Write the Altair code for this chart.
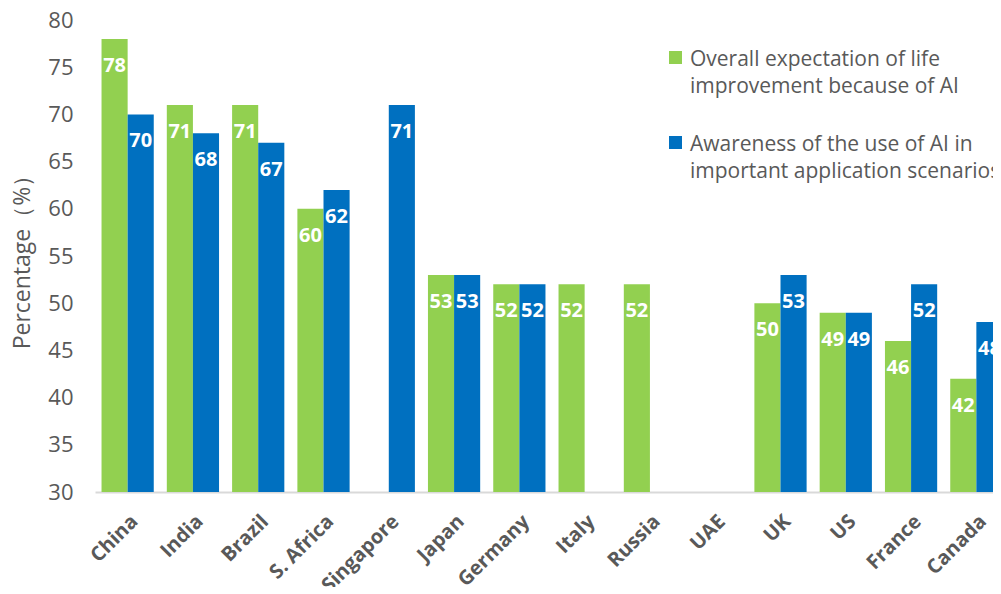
import altair as alt
import pandas as pd

countries = ["China", "India", "Brazil", "S. Africa", "Singapore", "Japan", "Germany",
             "Italy", "Russia", "UAE", "UK", "US", "France", "Canada"]
expectation = [78, 71, 71, 60, None, 53, 52, 52, 52, None, 50, 49, 46, 42]
awareness = [70, 68, 67, 62, 71, 53, 52, None, None, None, 53, 49, 52, 48]
series = ["Overall expectation of life improvement because of AI",
          "Awareness of the use of AI in important application scenarios"]
colors = ["#92D050", "#0070C0"]
y_ticks = [30, 35, 40, 45, 50, 55, 60, 65, 70, 75, 80]

rows = []
for c, e, a in zip(countries, expectation, awareness):
    rows.append({"country": c, "series": series[0], "value": e})
    rows.append({"country": c, "series": series[1], "value": a})
df = pd.DataFrame(rows)
df = df[df["value"].notna()]

FONT = "Open Sans"
GRAY = "#595959"

label_expr = ("datum.label == '" + series[0] + "' ? ['Overall expectation of life', 'improvement because of AI']"
              " : ['Awareness of the use of AI in', 'important application scenarios']")

base = alt.Chart(df).encode(
    x=alt.X("country:N", sort=countries,
            scale=alt.Scale(domain=countries, paddingInner=0.2, paddingOuter=0.1),
            axis=alt.Axis(title=None, labelAngle=-45, labelFont=FONT, labelFontSize=20,
                          labelFontWeight="bold", labelColor=GRAY, ticks=False,
                          domainColor="#D9D9D9", domainWidth=2, labelPadding=19)),
    xOffset=alt.XOffset("series:N", scale=alt.Scale(domain=series, paddingInner=0, paddingOuter=0)),
    y=alt.Y("value:Q", scale=alt.Scale(domain=[30, 80], zero=False, nice=False),
            axis=alt.Axis(values=y_ticks, title="Percentage（%）", titleFont=FONT,
                          titleFontSize=23, titleFontWeight="normal", titleColor=GRAY,
                          labelFont=FONT, labelFontSize=22, labelColor=GRAY, grid=False,
                          domain=False, ticks=False, labelPadding=22, titlePadding=13)),
)

bars = base.mark_bar().encode(
    y2=alt.datum(30),
    color=alt.Color("series:N", scale=alt.Scale(domain=series, range=colors),
                    legend=alt.Legend(title=None, orient="none", legendX=570, legendY=18,
                                      padding=0,
                                      symbolType="M-1,0.385L1,0.385L1,2.385L-1,2.385Z",
                                      symbolSize=169, symbolStrokeWidth=0,
                                      labelFont=FONT, labelFontSize=21, labelColor=GRAY,
                                      labelLimit=0, labelExpr=label_expr, rowPadding=26,
                                      labelOffset=4, labelBaseline="top")),
)

texts = base.mark_text(color="white", font=FONT, fontWeight="bold", fontSize=20,
                       baseline="middle", dy=27).encode(
    text=alt.Text("value:Q", format="d"),
)

chart = alt.layer(bars, texts).properties(
    width=914, height=472,
    autosize=alt.AutoSizeParams(type="none"),
    padding={"left": 87, "top": 12, "right": -16, "bottom": 95},
).configure(
    style={"guide-label": {"lineHeight": 27}},
    view=alt.ViewConfig(stroke=None),
)

chart.save("out.html", embed_options={"renderer": "svg", "actions": False})
